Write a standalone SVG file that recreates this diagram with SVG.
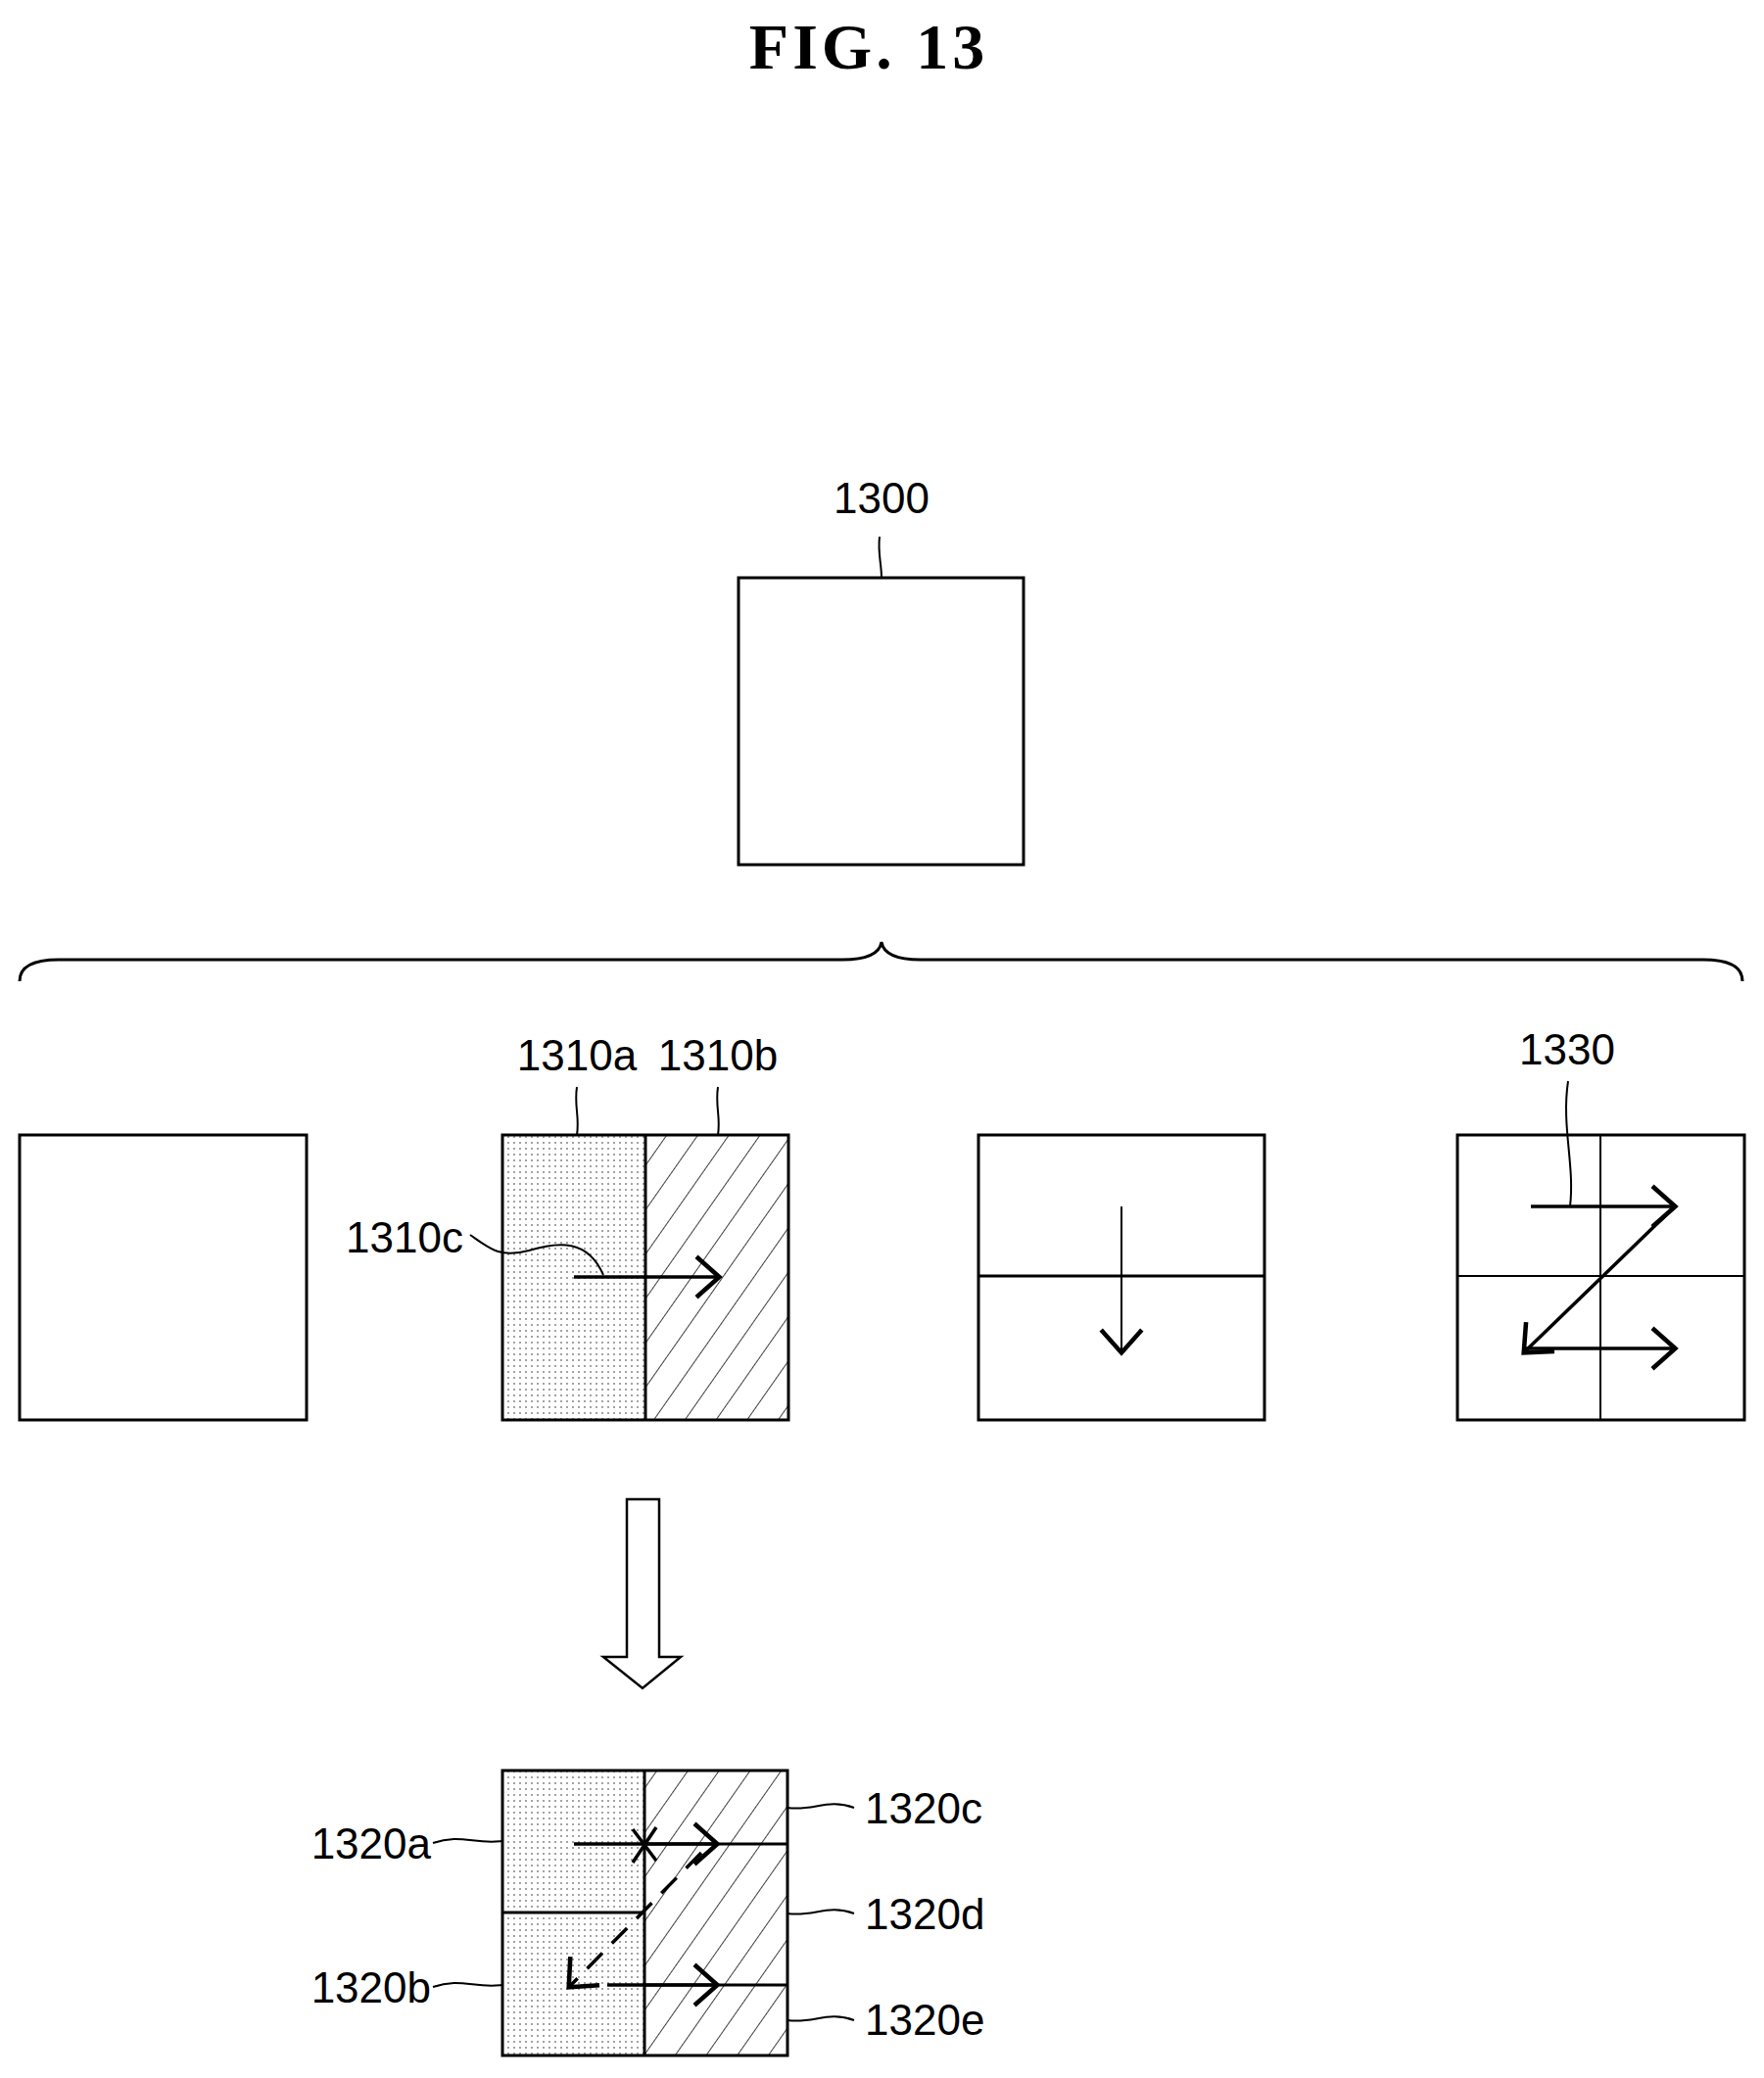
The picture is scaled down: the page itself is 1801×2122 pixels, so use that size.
<svg xmlns="http://www.w3.org/2000/svg" width="1801" height="2122" viewBox="0 0 1801 2122">
<style>
.b{fill:none;stroke:#000;stroke-width:3}
.t{fill:none;stroke:#000;stroke-width:2}
.a{fill:none;stroke:#000;stroke-width:3.5}
.lbl{font-family:"Liberation Sans",Arial,sans-serif;font-size:44px;fill:#000}
</style>
<defs>
<pattern id="dots" width="6" height="6" patternUnits="userSpaceOnUse"><rect width="6" height="6" fill="#fff"/><circle cx="3" cy="3" r="0.9" fill="#777"/></pattern>
<pattern id="hatch" width="26" height="26" patternUnits="userSpaceOnUse" patternTransform="rotate(35)"><rect width="26" height="26" fill="#fff"/><line x1="0" y1="0" x2="0" y2="26" stroke="#000" stroke-width="1.5"/></pattern>
<marker id="ah" viewBox="0 0 20 20" refX="18" refY="10" markerWidth="20" markerHeight="20" markerUnits="userSpaceOnUse" orient="auto" overflow="visible"><path d="M0,-6 L18,10 L0,26" fill="none" stroke="#000" stroke-width="3.5" transform="translate(-5,-3) scale(1.3)"/></marker>
</defs>
<text x="887" y="70" text-anchor="middle" font-family="Liberation Serif,serif" font-weight="bold" font-size="66" letter-spacing="4">FIG.  13</text>

<g id="n1300">
<rect x="754" y="590" width="291" height="293" class="b"/>
<text x="900" y="524" text-anchor="middle" class="lbl">1300</text>
<path d="M900,590 C900,575 896,565 898,548" class="t"/>
</g>

<g id="brace"><path d="M20,1002 Q20,980 60,980 L860,980 Q897,980 900,962 Q903,980 940,980 L1739,980 Q1779,980 1779,1002" class="b"/></g>

<g id="box1"><rect x="20" y="1159" width="293" height="291" class="b"/></g>

<g id="n1310">
<rect x="513" y="1159" width="146" height="291" fill="url(#dots)"/>
<rect x="659" y="1159" width="146" height="291" fill="url(#hatch)"/>
<rect x="513" y="1159" width="292" height="291" class="b"/>
<line x1="659" y1="1159" x2="659" y2="1450" class="b"/>
<text x="589" y="1093" text-anchor="middle" class="lbl">1310a</text>
<text x="733" y="1093" text-anchor="middle" class="lbl">1310b</text>
<text x="473" y="1279" text-anchor="end" class="lbl">1310c</text>
<path d="M589,1110 C586,1130 592,1140 589,1159" class="t"/>
<path d="M733,1110 C730,1130 736,1140 733,1159" class="t"/>
<path d="M480,1261 C500,1275 510,1285 540,1277 C570,1268 600,1265 616,1302" class="t"/>
</g>

<g id="box3">
<rect x="999" y="1159" width="292" height="291" class="b"/>
<line x1="999" y1="1303" x2="1291" y2="1303" class="b"/>
</g>

<g id="n1330">
<rect x="1488" y="1159" width="293" height="291" class="b"/>
<line x1="1488" y1="1303" x2="1781" y2="1303" class="t"/>
<line x1="1634" y1="1159" x2="1634" y2="1450" class="t"/>
<text x="1600" y="1087" text-anchor="middle" class="lbl">1330</text>
<path d="M1601,1104 C1594,1150 1608,1190 1603,1232" class="t"/>
</g>

<g id="n1320">
<rect x="513" y="1808" width="145" height="291" fill="url(#dots)"/>
<rect x="658" y="1808" width="146" height="291" fill="url(#hatch)"/>
<rect x="513" y="1808" width="291" height="291" class="b"/>
<line x1="658" y1="1808" x2="658" y2="2099" class="b"/>
<line x1="513" y1="1953" x2="658" y2="1953" class="b"/>
<line x1="658" y1="1883" x2="804" y2="1883" class="b"/>
<line x1="658" y1="2027" x2="804" y2="2027" class="b"/>
<text x="440" y="1898" text-anchor="end" class="lbl">1320a</text>
<text x="440" y="2045" text-anchor="end" class="lbl">1320b</text>
<text x="883" y="1862" class="lbl">1320c</text>
<text x="883" y="1970" class="lbl">1320d</text>
<text x="883" y="2078" class="lbl">1320e</text>
<path d="M442,1882 C470,1872 485,1884 513,1880" class="t"/>
<path d="M442,2029 C470,2019 485,2031 513,2027" class="t"/>
<path d="M804,1846 C830,1850 845,1836 872,1846" class="t"/>
<path d="M804,1954 C830,1958 845,1944 872,1954" class="t"/>
<path d="M804,2063 C830,2067 845,2053 872,2063" class="t"/>
</g>

<g id="connectors">
<line x1="586" y1="1304" x2="734" y2="1304" class="a" marker-end="url(#ah)"/>
<line x1="1145" y1="1232" x2="1145" y2="1381" class="t" marker-end="url(#ah)"/>
<line x1="1563" y1="1232" x2="1710" y2="1232" class="a" marker-end="url(#ah)"/>
<line x1="1710" y1="1232" x2="1556" y2="1381" class="a" marker-end="url(#ah)"/>
<line x1="1558" y1="1377" x2="1710" y2="1377" class="a" marker-end="url(#ah)"/>
<path d="M640,1531 L673,1531 L673,1692 L695,1692 L656,1724 L616,1692 L640,1692 Z" fill="#fff" stroke="#000" stroke-width="2.5"/>
<line x1="586" y1="1883" x2="732" y2="1883" class="a" marker-end="url(#ah)"/>
<path d="M646,1868 L670,1900 M670,1866 L646,1902" class="a"/>
<line x1="716" y1="1892" x2="581" y2="2029" class="a" stroke-dasharray="22,14" marker-end="url(#ah)"/>
<line x1="620" y1="2027" x2="658" y2="2027" class="a"/>
<line x1="658" y1="2027" x2="732" y2="2027" class="a" marker-end="url(#ah)"/>
</g>
</svg>
